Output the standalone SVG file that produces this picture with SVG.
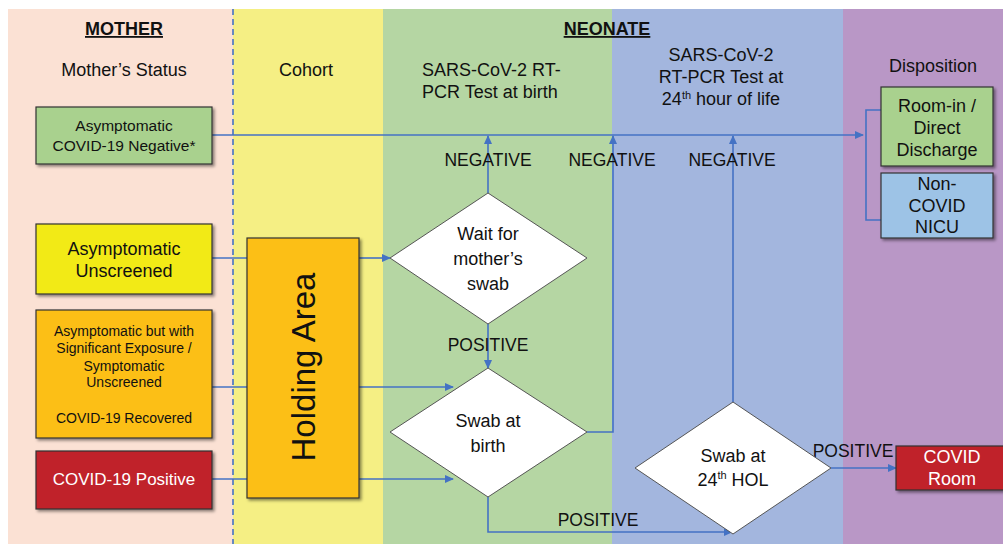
<svg xmlns="http://www.w3.org/2000/svg" width="1003" height="544" viewBox="0 0 1003 544">
<defs>
<style>
.t{font-family:"Liberation Sans",Arial,sans-serif;fill:#111;text-anchor:middle}
.h{font-weight:bold;font-size:18px;text-decoration:underline}
.c{font-size:18px}
.lab{font-size:17.5px}
.box{stroke:#333;stroke-width:1.2}
.dia{fill:#fff;stroke:#555;stroke-width:1}
.ln{fill:none;stroke:#4472C4;stroke-width:1.6}
.arr{marker-end:url(#ah)}
.w{fill:#fff}
</style>
<marker id="ah" markerUnits="userSpaceOnUse" markerWidth="9" markerHeight="8" refX="8" refY="4" orient="auto">
<path d="M0,0 L9,4 L0,8 z" fill="#4472C4"/>
</marker>
<filter id="sh" x="-10%" y="-10%" width="130%" height="130%">
<feDropShadow dx="2" dy="2" stdDeviation="1.5" flood-color="#000" flood-opacity="0.45"/>
</filter>
</defs>
<rect x="0" y="0" width="1003" height="544" fill="#fff"/>
<g id="lanes">
<rect x="8" y="9" width="225" height="535" fill="#FBE1D4"/>
<rect x="233" y="9" width="150" height="535" fill="#F5EF84"/>
<rect x="383" y="9" width="229" height="535" fill="#B5D6A3"/>
<rect x="612" y="9" width="231" height="535" fill="#A3B6DE"/>
<rect x="843" y="9" width="160" height="535" fill="#B997C6"/>
<line x1="233" y1="9" x2="233" y2="544" stroke="#4472C4" stroke-width="1.6" stroke-dasharray="6,4"/>
</g>
<g id="headers">
<text class="t h" x="124" y="35">MOTHER</text>
<text class="t h" x="607" y="35">NEONATE</text>
<text class="t c" x="124" y="76">Mother’s Status</text>
<text class="t c" x="306" y="76">Cohort</text>
<text class="t c" x="422" y="76" style="text-anchor:start">SARS-CoV-2 RT-</text>
<text class="t c" x="422" y="98" style="text-anchor:start">PCR Test at birth</text>
<text class="t c" x="721" y="61">SARS-CoV-2</text>
<text class="t c" x="721" y="83">RT-PCR Test at</text>
<text class="t c" x="721" y="105">24<tspan font-size="11" dy="-6">th</tspan><tspan dy="6"> hour of life</tspan></text>
<text class="t c" x="933" y="72">Disposition</text>
</g>
<g id="connectors">
<path class="ln arr" d="M212,135 H863"/>
<path class="ln" d="M881,110 H866 V220 H881"/>
<path class="ln arr" d="M488,193 V136"/>
<path class="ln arr" d="M587,432 H613 V136"/>
<path class="ln arr" d="M733,402 V136"/>
<path class="ln" d="M212,258 H247"/>
<path class="ln arr" d="M359,258 H390"/>
<path class="ln" d="M212,387 H247"/>
<path class="ln arr" d="M359,387 H453"/>
<path class="ln" d="M212,479 H247"/>
<path class="ln arr" d="M359,479 H453"/>
<path class="ln arr" d="M488,324 V368"/>
<path class="ln arr" d="M488,497 V532 H732"/>
<path class="ln arr" d="M831,468 H896"/>
<text class="t lab" x="488" y="166">NEGATIVE</text>
<text class="t lab" x="612" y="166">NEGATIVE</text>
<text class="t lab" x="732" y="166">NEGATIVE</text>
<text class="t lab" x="488" y="351">POSITIVE</text>
<text class="t lab" x="598" y="526">POSITIVE</text>
<text class="t lab" x="853" y="457">POSITIVE</text>
</g>
<g id="n-negative">
<rect class="box" x="36" y="107" width="176" height="57" fill="#A9D18E" filter="url(#sh)"/>
<text class="t" font-size="15.5" x="124" y="131">Asymptomatic</text>
<text class="t" font-size="15.5" x="124" y="151">COVID-19 Negative*</text>
</g>
<g id="n-unscreened">
<rect class="box" x="36" y="224" width="176" height="70" fill="#F2EA17" filter="url(#sh)"/>
<text class="t" font-size="18" x="124" y="255">Asymptomatic</text>
<text class="t" font-size="18" x="124" y="277">Unscreened</text>
</g>
<g id="n-exposure">
<rect class="box" x="36" y="310" width="176" height="128" fill="#FCBF12" filter="url(#sh)"/>
<text class="t" font-size="14" x="124" y="336">Asymptomatic but with</text>
<text class="t" font-size="14" x="124" y="353">Significant Exposure /</text>
<text class="t" font-size="14" x="124" y="371">Symptomatic</text>
<text class="t" font-size="14" x="124" y="387">Unscreened</text>
<text class="t" font-size="14" x="124" y="423">COVID-19 Recovered</text>
</g>
<g id="n-positive">
<rect class="box" x="36" y="451" width="176" height="58" fill="#C0202A" filter="url(#sh)"/>
<text class="t w" font-size="17" x="124" y="485">COVID-19 Positive</text>
</g>
<g id="n-holding">
<rect class="box" x="247" y="238" width="112" height="260" fill="#FCBF12" filter="url(#sh)"/>
<text class="t" font-size="33" transform="translate(315,367) rotate(-90)">Holding Area</text>
</g>
<g id="n-wait">
<polygon class="dia" points="488,193 587,258 488,324 390,258"/>
<text class="t" font-size="18" x="488" y="240">Wait for</text>
<text class="t" font-size="18" x="488" y="265">mother’s</text>
<text class="t" font-size="18" x="488" y="290">swab</text>
</g>
<g id="n-swabbirth">
<polygon class="dia" points="488,368 587,432 488,497 390,432"/>
<text class="t" font-size="18" x="488" y="427">Swab at</text>
<text class="t" font-size="18" x="488" y="452">birth</text>
</g>
<g id="n-swab24">
<polygon class="dia" points="733,402 831,468 733,534 635,468"/>
<text class="t" font-size="18" x="733" y="462">Swab at</text>
<text class="t" font-size="18" x="733" y="486">24<tspan font-size="11" dy="-7">th</tspan><tspan dy="7"> HOL</tspan></text>
</g>
<g id="n-roomin">
<rect class="box" x="881" y="87" width="112" height="79" fill="#A9D18E" filter="url(#sh)"/>
<text class="t" font-size="18" x="937" y="112">Room-in /</text>
<text class="t" font-size="18" x="937" y="134">Direct</text>
<text class="t" font-size="18" x="937" y="156">Discharge</text>
</g>
<g id="n-nicu">
<rect class="box" x="881" y="173" width="112" height="65" fill="#9DC3E6" filter="url(#sh)"/>
<text class="t" font-size="18" x="937" y="190">Non-</text>
<text class="t" font-size="18" x="937" y="212">COVID</text>
<text class="t" font-size="18" x="937" y="233">NICU</text>
</g>
<g id="n-covidroom">
<rect class="box" x="896" y="446" width="112" height="44" fill="#C0202A" filter="url(#sh)"/>
<text class="t w" font-size="18" x="952" y="463">COVID</text>
<text class="t w" font-size="18" x="952" y="485">Room</text>
</g>
</svg>
